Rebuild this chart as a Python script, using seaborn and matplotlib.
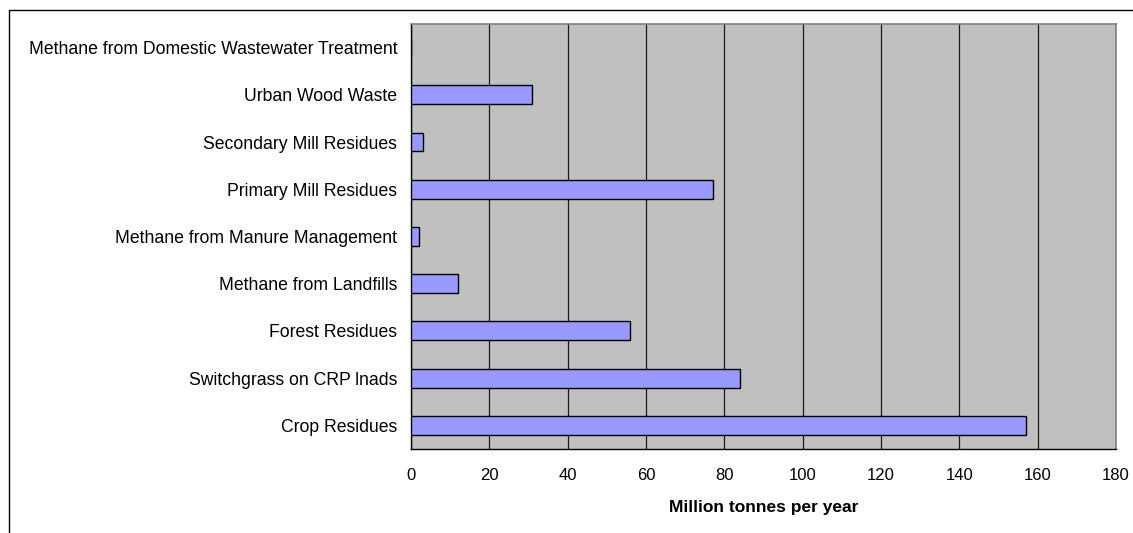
import matplotlib
matplotlib.use("Agg")
import matplotlib.pyplot as plt
from matplotlib.lines import Line2D
from matplotlib.ticker import FixedLocator
import seaborn as sns
import pandas as pd

# Biomass resource categories (top to bottom) and annual quantities
categories = [
    "Methane from Domestic Wastewater Treatment",
    "Urban Wood Waste",
    "Secondary Mill Residues",
    "Primary Mill Residues",
    "Methane from Manure Management",
    "Methane from Landfills",
    "Forest Residues",
    "Switchgrass on CRP lnads",
    "Crop Residues",
]
values = [0, 31, 3, 77, 2, 12, 56, 84, 157]
x_ticks = [0, 20, 40, 60, 80, 100, 120, 140, 160, 180]
x_label = "Million tonnes per year"

sns.set_theme(style="white")
plt.rcParams["font.family"] = ["Liberation Sans", "DejaVu Sans"]
plt.rcParams["text.color"] = "black"
plt.rcParams["axes.labelcolor"] = "black"
plt.rcParams["xtick.color"] = "black"
plt.rcParams["ytick.color"] = "black"

df = pd.DataFrame({"resource": categories, "amount": values})

fig = plt.figure(figsize=(11.33, 5.33), dpi=100)
ax = fig.add_axes([0.3628, 0.1576, 0.6222, 0.7974])
ax.set_facecolor("#C0C0C0")

sns.barplot(data=df, x="amount", y="resource", order=categories, orient="h",
            color="#9999FF", edgecolor="black", linewidth=1.0, width=0.4,
            saturation=1, ax=ax, zorder=3)

ax.set_xlim(0, 180)
ax.set_ylim(len(categories) - 0.5, -0.5)
ax.set_xticks(x_ticks)
ax.set_xticklabels([str(t) for t in x_ticks], fontsize=12, color="black")
ax.set_xlabel(x_label, fontsize=12.5, fontweight="bold", labelpad=12, color="black")
ax.set_ylabel("")

# vertical gridlines
ax.xaxis.grid(True, color="#1a1a1a", linewidth=0.9, zorder=1)
ax.yaxis.grid(False)
ax.set_axisbelow(True)

# category labels, tick marks at category boundaries
ax.tick_params(axis="y", which="major", length=0, labelsize=12.7, pad=10,
               labelcolor="black")
ax.yaxis.set_minor_locator(FixedLocator([i - 0.5 for i in range(len(categories) + 1)]))
ax.tick_params(axis="y", which="minor", length=5, width=1, color="black", direction="out")
ax.tick_params(axis="x", which="major", length=5, width=1, color="black",
               direction="out", pad=9, labelcolor="black")

for side in ["top", "right"]:
    ax.spines[side].set_visible(True)
    ax.spines[side].set_color("#808080")
    ax.spines[side].set_linewidth(1.2)
for side in ["left", "bottom"]:
    ax.spines[side].set_visible(True)
    ax.spines[side].set_color("black")
    ax.spines[side].set_linewidth(1.0)

# outer chart frame (top and left edges)
fig.add_artist(Line2D([9 / 1133, 1.0], [1 - 10 / 533, 1 - 10 / 533],
                      color="black", linewidth=1.0, transform=fig.transFigure))
fig.add_artist(Line2D([9 / 1133, 9 / 1133], [0.0, 1 - 10 / 533],
                      color="black", linewidth=1.0, transform=fig.transFigure))

fig.savefig("out.png", dpi=100)
